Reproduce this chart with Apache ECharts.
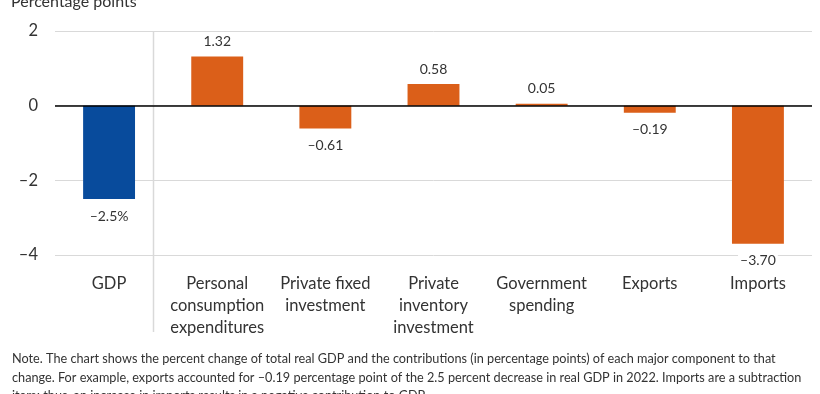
<!DOCTYPE html>
<html><head><meta charset="utf-8">
<script src="https://cdn.jsdelivr.net/npm/echarts@6/dist/echarts.min.js"></script>
<style>html,body{margin:0;padding:0;background:#fff}#c{width:820px;height:394px}</style>
</head><body><div id="c"></div>
<script>
var categories = ['GDP', 'Personal\nconsumption\nexpenditures', 'Private fixed\ninvestment', 'Private\ninventory\ninvestment', 'Government\nspending', 'Exports', 'Imports'];
var values = [-2.5, 1.32, -0.61, 0.58, 0.05, -0.19, -3.70];
var valueLabels = ['–2.5%', '1.32', '–0.61', '0.58', '0.05', '–0.19', '–3.70'];
var yTicks = [-4, -2, 0, 2];
var unitTitle = 'Percentage points';
var noteLines = [
  'Note. The chart shows the percent change of total real GDP and the contributions (in percentage points) of each major component to that',
  'change. For example, exports accounted for –0.19 percentage point of the 2.5 percent decrease in real GDP in 2022. Imports are a subtraction',
  'item; thus, an increase in imports results in a negative contribution to GDP.'
];

var FONT = 'Lato, "Open Sans", sans-serif';
var BLUE = '#084b9c', ORANGE = '#db5f19';
var chart = echarts.init(document.getElementById('c'), null, {renderer: 'canvas'});
var data = values.map(function (v, i) {
  return {
    value: v,
    itemStyle: {color: i === 0 ? BLUE : ORANGE},
    label: {
      show: true,
      position: v >= 0 ? 'top' : 'bottom',
      distance: v >= 0 ? 8 : 10,
      formatter: valueLabels[i],
      color: '#333', fontFamily: FONT, fontSize: 14,
      backgroundColor: '#fff', padding: [0, 2]
    }
  };
});
chart.setOption({
  animation: false,
  textStyle: {fontFamily: FONT},
  title: [
    {text: unitTitle, left: 6, top: -11, textStyle: {fontFamily: FONT, fontSize: 16, fontWeight: 'normal', color: '#333'}},
    {text: noteLines.join('\n'), left: 7, top: 345, textStyle: {fontFamily: FONT, fontSize: 12.7, fontWeight: 'normal', color: '#333', lineHeight: 18.5}}
  ],
  grid: {left: 55, right: 8, top: 31, bottom: 139, containLabel: false},
  xAxis: {
    type: 'category', data: categories, position: 'bottom',
    axisLine: {show: false}, axisTick: {show: false},
    axisLabel: {interval: 0, color: '#333', fontSize: 16.5, lineHeight: 22, margin: 18, fontFamily: FONT, verticalAlign: 'top'}
  },
  yAxis: {
    type: 'value', min: -4, max: 2, interval: 2,
    axisLine: {show: false}, axisTick: {show: false},
    axisLabel: {color: '#333', fontSize: 16.5, margin: 17, fontFamily: FONT,
      formatter: function (v) { return yTicks.indexOf(v) >= 0 ? (v < 0 ? '–' + Math.abs(v) : String(v)) : ''; }},
    splitLine: {lineStyle: {color: '#d9d9d9', width: 1}}
  },
  series: [{
    type: 'bar', data: data, barWidth: '48%',
    markLine: {
      silent: true, symbol: 'none', label: {show: false},
      lineStyle: {color: '#000', width: 1.5, type: 'solid'},
      data: [{yAxis: 0}]
    }
  }]
});
// separator between GDP and components, located from the axis scale
var p0 = chart.convertToPixel({xAxisIndex: 0}, 0);
var p1 = chart.convertToPixel({xAxisIndex: 0}, 1);
var sepX = Math.round(p0 + (p1 - p0) * 0.41) + 0.5;
var yTop = chart.convertToPixel({yAxisIndex: 0}, 2);
chart.setOption({
  graphic: [{type: 'line', shape: {x1: sepX, y1: yTop, x2: sepX, y2: 332}, style: {stroke: '#d9d9d9', lineWidth: 1.5}, z: 0}]
});
</script></body></html>
